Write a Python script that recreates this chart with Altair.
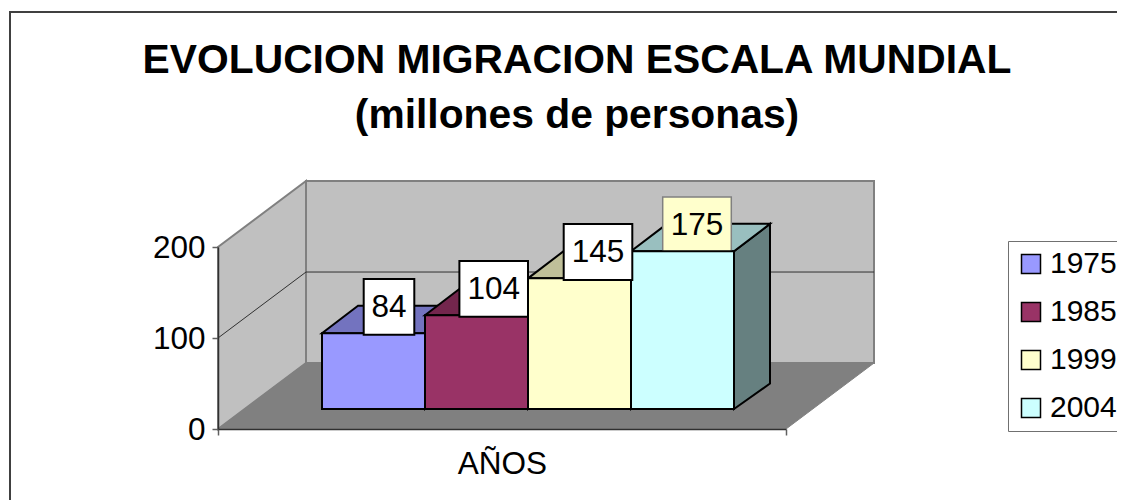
import altair as alt
import pandas as pd

YEARS = ["1975", "1985", "1999", "2004"]
VALUES = [84, 104, 145, 175]
FRONT = ["#9999FF", "#993366", "#FFFFCC", "#CCFFFF"]
TOP = ["#7373BF", "#73264D", "#BFBF99", "#99BFBF"]
SIDE = ["#4D4D80", "#4D1A33", "#808066", "#668080"]
LABEL_FILL = ["#FFFFFF", "#FFFFFF", "#FFFFFF", "#FFFFCC"]
LABEL_STROKE = ["#000000", "#000000", "#000000", "#808080"]
TITLE = ["EVOLUCION MIGRACION ESCALA MUNDIAL", "(millones de personas)"]
AXIS_TITLE = "AÑOS"
Y_TICKS = [0, 100, 200]

X_SPAN = 568
Y_SPAN = 200
WALL_DX = 88          # depth shift of the back wall, horizontal axis units
WALL_DY = 72.5        # depth shift of the back wall, value units
BAR_LEFT = 104
BAR_W = 103
BAR_BASE = 22
BAR_SCALE = 0.99
BAR_DX = 36
BAR_DY_TOP = 30.2
BAR_DY_BOT = 28

FONT = "Liberation Sans"
FS = 31.5

x_scale = alt.Scale(domain=[0, X_SPAN], nice=False, zero=False)
y_scale = alt.Scale(domain=[0, Y_SPAN], nice=False, zero=False)
x_axis = alt.Axis(
    values=[0, X_SPAN], labels=False, ticks=True, tickSize=6, tickColor="#606060",
    tickWidth=1.5, domainColor="#303030", domainWidth=1.5, grid=False,
    titleFont=FONT, titleFontSize=FS, titleFontWeight="normal", titleColor="black",
    titlePadding=13, zindex=1)
y_axis = alt.Axis(
    values=Y_TICKS, tickSize=6, tickColor="#606060", tickWidth=1.5,
    domainColor="#303030", domainWidth=1.5, grid=False, labelFont=FONT,
    labelFontSize=FS, labelColor="black", labelPadding=7, labelOffset=1.5, zindex=1)
X = lambda f="x": alt.X(f"{f}:Q", scale=x_scale, axis=x_axis, title=AXIS_TITLE)
Y = lambda f="y": alt.Y(f"{f}:Q", scale=y_scale, axis=y_axis, title=None)


def band(rows, orient, **style):
    df = pd.DataFrame(rows)
    if orient == "vertical":
        enc = dict(x=X("a"), y=Y("b"), y2=alt.Y2("c"))
    else:
        enc = dict(y=Y("a"), x=X("b"), x2=alt.X2("c"))
    return alt.Chart(df).mark_area(orient=orient, **style).encode(**enc)


wall = dict(fill="#C0C0C0", stroke="#808080", strokeWidth=2)
left_wall = band(
    [dict(a=0, b=0, c=Y_SPAN), dict(a=WALL_DX, b=WALL_DY, c=WALL_DY + Y_SPAN)],
    "vertical", **wall)
back_wall = band(
    [dict(a=WALL_DX, b=WALL_DY, c=WALL_DY + Y_SPAN),
     dict(a=WALL_DX + X_SPAN, b=WALL_DY, c=WALL_DY + Y_SPAN)],
    "vertical", **wall)
floor = band(
    [dict(a=0, b=0, c=X_SPAN), dict(a=WALL_DY, b=WALL_DX, c=WALL_DX + X_SPAN)],
    "horizontal", fill="#808080", stroke="#808080", strokeWidth=1)

grid_df = pd.DataFrame([
    dict(x=0, y=100), dict(x=WALL_DX, y=100 + WALL_DY), dict(x=WALL_DX + X_SPAN, y=100 + WALL_DY),
])
grid = alt.Chart(grid_df).mark_line(color="#303030", strokeWidth=1).encode(
    x=X(), y=Y(), order="x:Q")

sides, tops = [], []
rows = []
for i, (yr, v) in enumerate(zip(YEARS, VALUES)):
    l = BAR_LEFT + BAR_W * i
    r = l + BAR_W
    t = BAR_BASE + BAR_SCALE * v
    rows.append(dict(year=yr, l=l, r=r, base=BAR_BASE, top=t))
    sides.append(band(
        [dict(a=r, b=BAR_BASE, c=t),
         dict(a=r + BAR_DX, b=BAR_BASE + BAR_DY_BOT, c=t + BAR_DY_TOP)],
        "vertical", fill=SIDE[i], stroke="black", strokeWidth=2))
    tops.append(band(
        [dict(a=t, b=l, c=r),
         dict(a=t + BAR_DY_TOP, b=l + BAR_DX, c=r + BAR_DX)],
        "horizontal", fill=TOP[i], stroke="black", strokeWidth=2))

fronts = alt.Chart(pd.DataFrame(rows)).mark_rect(stroke="black", strokeWidth=2).encode(
    x=X("l"), x2=alt.X2("r"), y=Y("base"), y2=alt.Y2("top"),
    color=alt.Color("year:N", scale=alt.Scale(domain=YEARS, range=FRONT), legend=alt.Legend(
        title=None, orient="none", legendX=790, legendY=-6, fillColor="white",
        strokeColor="#707070", padding=8, symbolType="square", symbolSize=361,
        symbolStrokeColor="black", symbolStrokeWidth=1.5, symbolOpacity=1,
        labelFont=FONT, labelFontSize=30, labelColor="black", labelOffset=4,
        rowPadding=18, labelLimit=200)),
)

labels = []
CX_SHIFT = [67, 68.7, 70, 66]
for i, (yr, v) in enumerate(zip(YEARS, VALUES)):
    cx = BAR_LEFT + BAR_W * i + CX_SHIFT[i]
    cy = BAR_BASE + BAR_SCALE * v + 29
    half_w = 25.3 if v < 100 else 34.3
    labels.append(dict(year=yr, val=str(v), cx=cx, cy=cy, x0=cx - half_w, x1=cx + half_w,
                       y0=cy - 30.7, y1=cy + 30.7, fill=LABEL_FILL[i], stroke=LABEL_STROKE[i]))
labels = pd.DataFrame(labels)


def boxes(df, sw):
    return alt.Chart(df).mark_rect(strokeWidth=sw).encode(
        x=X("x0"), x2=alt.X2("x1"), y=Y("y0"), y2=alt.Y2("y1"),
        fill=alt.Fill("fill:N", scale=None), stroke=alt.Stroke("stroke:N", scale=None))


box_last = boxes(labels[labels.val == "175"], 1.5)
box_rest = boxes(labels[labels.val != "175"], 2)
texts = alt.Chart(labels).mark_text(
    font=FONT, fontSize=FS, color="black", align="center", baseline="middle", dy=1
).encode(x=X("cx"), y=Y("cy"), text="val:N")

frame = alt.Chart(pd.DataFrame({"k": [0]})).mark_rect(
    fill="transparent", stroke="#404040", strokeWidth=2
).encode(x=alt.value(-208), x2=alt.value(1200), y=alt.value(-235), y2=alt.value(600))

chart = alt.layer(
    frame, left_wall, back_wall, floor, grid, *sides, *tops, box_last, fronts, box_rest, texts
).properties(
    width=X_SPAN,
    height=182,
    padding={"left": 210, "top": 239, "right": 331, "bottom": 71},
    autosize=alt.AutoSizeParams(type="none"),
    title=alt.TitleParams(
        text=TITLE, font=FONT, fontSize=40.8, fontWeight="bold", color="black",
        anchor="middle", align="center", dx=75, offset=-126, lineHeight=55),
).configure_view(stroke=None)

chart.save("out.html", embed_options={"renderer": "svg", "actions": False})
